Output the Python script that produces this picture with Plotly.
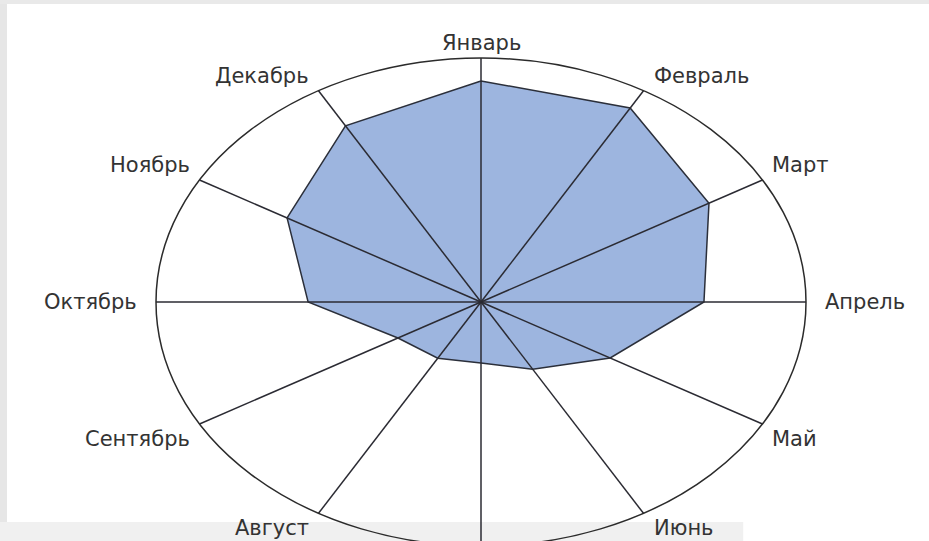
import math
import plotly.graph_objects as go

months = ["Январь", "Февраль", "Март", "Апрель", "Май", "Июнь",
          "Июль", "Август", "Сентябрь", "Октябрь", "Ноябрь", "Декабрь"]
values = [90.6, 91.8, 81.0, 68.6, 45.9, 31.8, 25.0, 26.6, 29.5, 53.2, 68.9, 83.4]
r_max = 100.0

W, H = 929, 541
cx_px, cy_px = 481, 302
rx_px, ry_px = 325, 244

angles = [i * 360.0 / len(months) for i in range(len(months))]

def to_xy(r, ang):
    a = math.radians(ang)
    return r / r_max * math.sin(a), r / r_max * math.cos(a)

fig = go.Figure()

# spokes
sx, sy = [], []
for ang in angles:
    x1, y1 = to_xy(r_max, ang)
    sx += [0, x1, None]
    sy += [0, y1, None]

# data polygon
px, py = [], []
for v, ang in zip(values + values[:1], angles + angles[:1]):
    x, y = to_xy(v, ang)
    px.append(x)
    py.append(y)

fig.add_trace(go.Scatter(x=px, y=py, mode="lines", fill="toself",
                         fillcolor="#9db5df", line=dict(color="#2b2f3a", width=1.5),
                         hoverinfo="skip", showlegend=False))
fig.add_trace(go.Scatter(x=sx, y=sy, mode="lines",
                         line=dict(color="#2b2b33", width=1.5),
                         hoverinfo="skip", showlegend=False))

# outer ellipse
fig.add_shape(type="circle", xref="x", yref="y", x0=-1, y0=-1, x1=1, y1=1,
              line=dict(color="#2b2b2b", width=1.5), layer="above")

# labels
for name, ang in zip(months, angles):
    x, y = to_xy(r_max, ang)
    s, c = math.sin(math.radians(ang)), math.cos(math.radians(ang))
    xa = "left" if s > 0.1 else ("right" if s < -0.1 else "center")
    ya = "bottom" if c > 0.1 else ("top" if c < -0.1 else "middle")
    xs = 8 * (1 if s > 0.1 else (-1 if s < -0.1 else 0))
    ys = 1 * (1 if c > 0.1 else (-1 if c < -0.1 else 0))
    if ya == "middle":
        xs = 17 * (1 if s > 0 else -1)
    if xa == "center":
        ys = 1 if c > 0 else -1
    fig.add_annotation(x=x, y=y, text=name, showarrow=False,
                       xanchor=xa, yanchor=ya, xshift=xs, yshift=ys,
                       font=dict(family="DejaVu Sans", size=21, color="#333333"))

# frame bands
fig.add_shape(type="rect", xref="paper", yref="paper", x0=0, x1=7 / W, y0=0, y1=1,
              fillcolor="#e6e6e6", line_width=0, layer="below")
fig.add_shape(type="rect", xref="paper", yref="paper", x0=0, x1=1, y0=1 - 4 / H, y1=1,
              fillcolor="#e9e9e9", line_width=0, layer="below")
fig.add_shape(type="rect", xref="paper", yref="paper", x0=0, x1=0.8, y0=0, y1=19 / H,
              fillcolor="#f0f0f0", line_width=0, layer="below")

fig.update_xaxes(range=[-cx_px / rx_px, (W - cx_px) / rx_px], visible=False, fixedrange=True)
fig.update_yaxes(range=[-(H - cy_px) / ry_px, cy_px / ry_px], visible=False, fixedrange=True)
fig.update_layout(width=W, height=H, margin=dict(l=0, r=0, t=0, b=0),
                  plot_bgcolor="rgba(0,0,0,0)", paper_bgcolor="white", showlegend=False)

fig.write_html("out.html", config={"displayModeBar": False},
               post_script="document.body.style.margin='0';document.body.style.overflow='hidden';")
